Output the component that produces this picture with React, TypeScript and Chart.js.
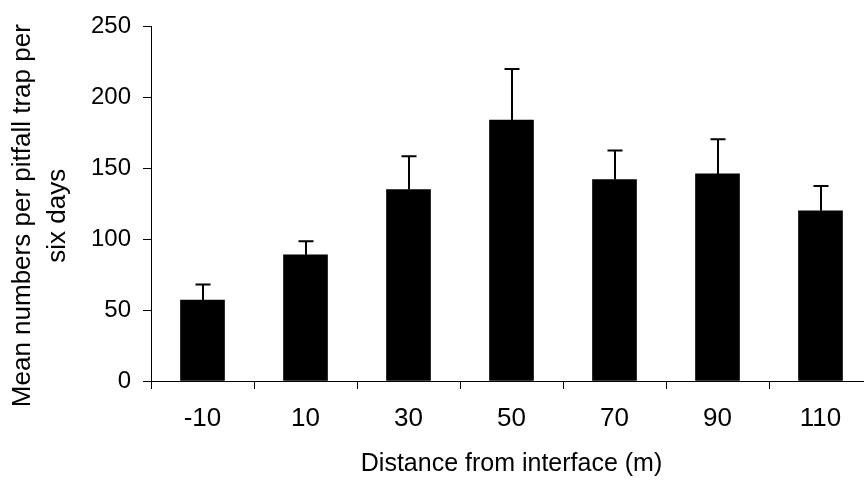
import React, { useEffect, useRef } from "react";
import { Chart, registerables, Scale } from "chart.js";

Chart.register(...registerables);

const categories = ["-10", "10", "30", "50", "70", "90", "110"];
const meanValues = [57, 89, 135, 184, 142, 146, 120];
const errorValues = [11, 9.5, 23.5, 36, 20.5, 24.5, 17.5];
const yTicks = [0, 50, 100, 150, 200, 250];
const xTitle = "Distance from interface (m)";
const yTitle = ["Mean numbers per pitfall trap per", "six days"];

const FONT = "'Liberation Sans', Arial, Helvetica, sans-serif";

const errorBarPlugin = {
  id: "errorBars",
  afterDatasetsDraw(chart: any) {
    const meta = chart.getDatasetMeta(0);
    const yScale = chart.scales.y;
    const ctx = chart.ctx;
    ctx.save();
    ctx.strokeStyle = "#000";
    ctx.lineWidth = 2;
    meta.data.forEach((bar: any, i: number) => {
      const x = Math.round(bar.x);
      const yTop = yScale.getPixelForValue(meanValues[i] + errorValues[i]);
      ctx.beginPath();
      ctx.moveTo(x, bar.y);
      ctx.lineTo(x, yTop);
      ctx.moveTo(x - 7.5, yTop);
      ctx.lineTo(x + 7.5, yTop);
      ctx.stroke();
    });
    ctx.restore();
  },
};

// shift the y-axis title slightly downward, as in the reference
const yTitleShiftPlugin = {
  id: "yTitleShift",
  afterLayout(chart: any) {
    const s = chart.scales.y;
    if (!s || s._shiftPatched) return;
    s._shiftPatched = true;
    s.drawTitle = function () {
      const t = this.top;
      const b = this.bottom;
      this.top = t + 12;
      this.bottom = b + 12;
      (Scale.prototype as any).drawTitle.call(this);
      this.top = t;
      this.bottom = b;
    };
  },
};

export default function App() {
  const canvasRef = useRef<HTMLCanvasElement | null>(null);

  useEffect(() => {
    const canvas = canvasRef.current;
    if (!canvas) return;
    const chart = new Chart(canvas, {
      type: "bar",
      data: {
        labels: categories,
        datasets: [
          {
            data: meanValues,
            backgroundColor: "#000",
            borderColor: "#000",
            borderWidth: 0,
            barThickness: 44,
          },
        ],
      },
      options: {
        animation: false,
        responsive: false,
        devicePixelRatio: 1,
        layout: { padding: { top: 21, right: 8, bottom: 0, left: 0 } },
        plugins: {
          legend: { display: false },
          tooltip: { enabled: false },
        },
        scales: {
          x: {
            grid: {
              display: true,
              drawOnChartArea: false,
              drawTicks: true,
              tickLength: 8,
              color: "#000",
              lineWidth: 1,
              offset: true,
            },
            border: { display: true, color: "#000", width: 1 },
            ticks: {
              color: "#000",
              padding: 14,
              font: { family: FONT, size: 26 },
              maxRotation: 0,
            },
            title: {
              display: true,
              text: xTitle,
              color: "#000",
              font: { family: FONT, size: 25 },
              padding: { top: 0, bottom: 2 },
            },
            afterFit: (s: any) => {
              s.height = 100;
            },
          },
          y: {
            min: 0,
            max: 250,
            grid: {
              display: true,
              drawOnChartArea: false,
              drawTicks: true,
              tickLength: 8,
              color: "#000",
              lineWidth: 1,
            },
            border: { display: true, color: "#000", width: 1 },
            ticks: {
              color: "#000",
              padding: 12,
              font: { family: FONT, size: 24 },
            },
            afterBuildTicks: (s: any) => {
              s.ticks = yTicks.map((v) => ({ value: v }));
            },
            title: {
              display: true,
              text: yTitle,
              color: "#000",
              font: { family: FONT, size: 26, lineHeight: 1.35 },
              padding: { top: 5, bottom: 0 },
            },
            afterFit: (s: any) => {
              s.width = 151;
            },
          },
        },
      },
      plugins: [errorBarPlugin, yTitleShiftPlugin],
    });
    return () => chart.destroy();
  }, []);

  return (
    <div
      style={{
        position: "fixed",
        left: 0,
        top: 0,
        width: 864,
        height: 481,
        overflow: "hidden",
        background: "#fff",
      }}
    >
      <canvas
        ref={canvasRef}
        width={880}
        height={481}
        style={{ display: "block", width: 880, height: 481 }}
      />
    </div>
  );
}
